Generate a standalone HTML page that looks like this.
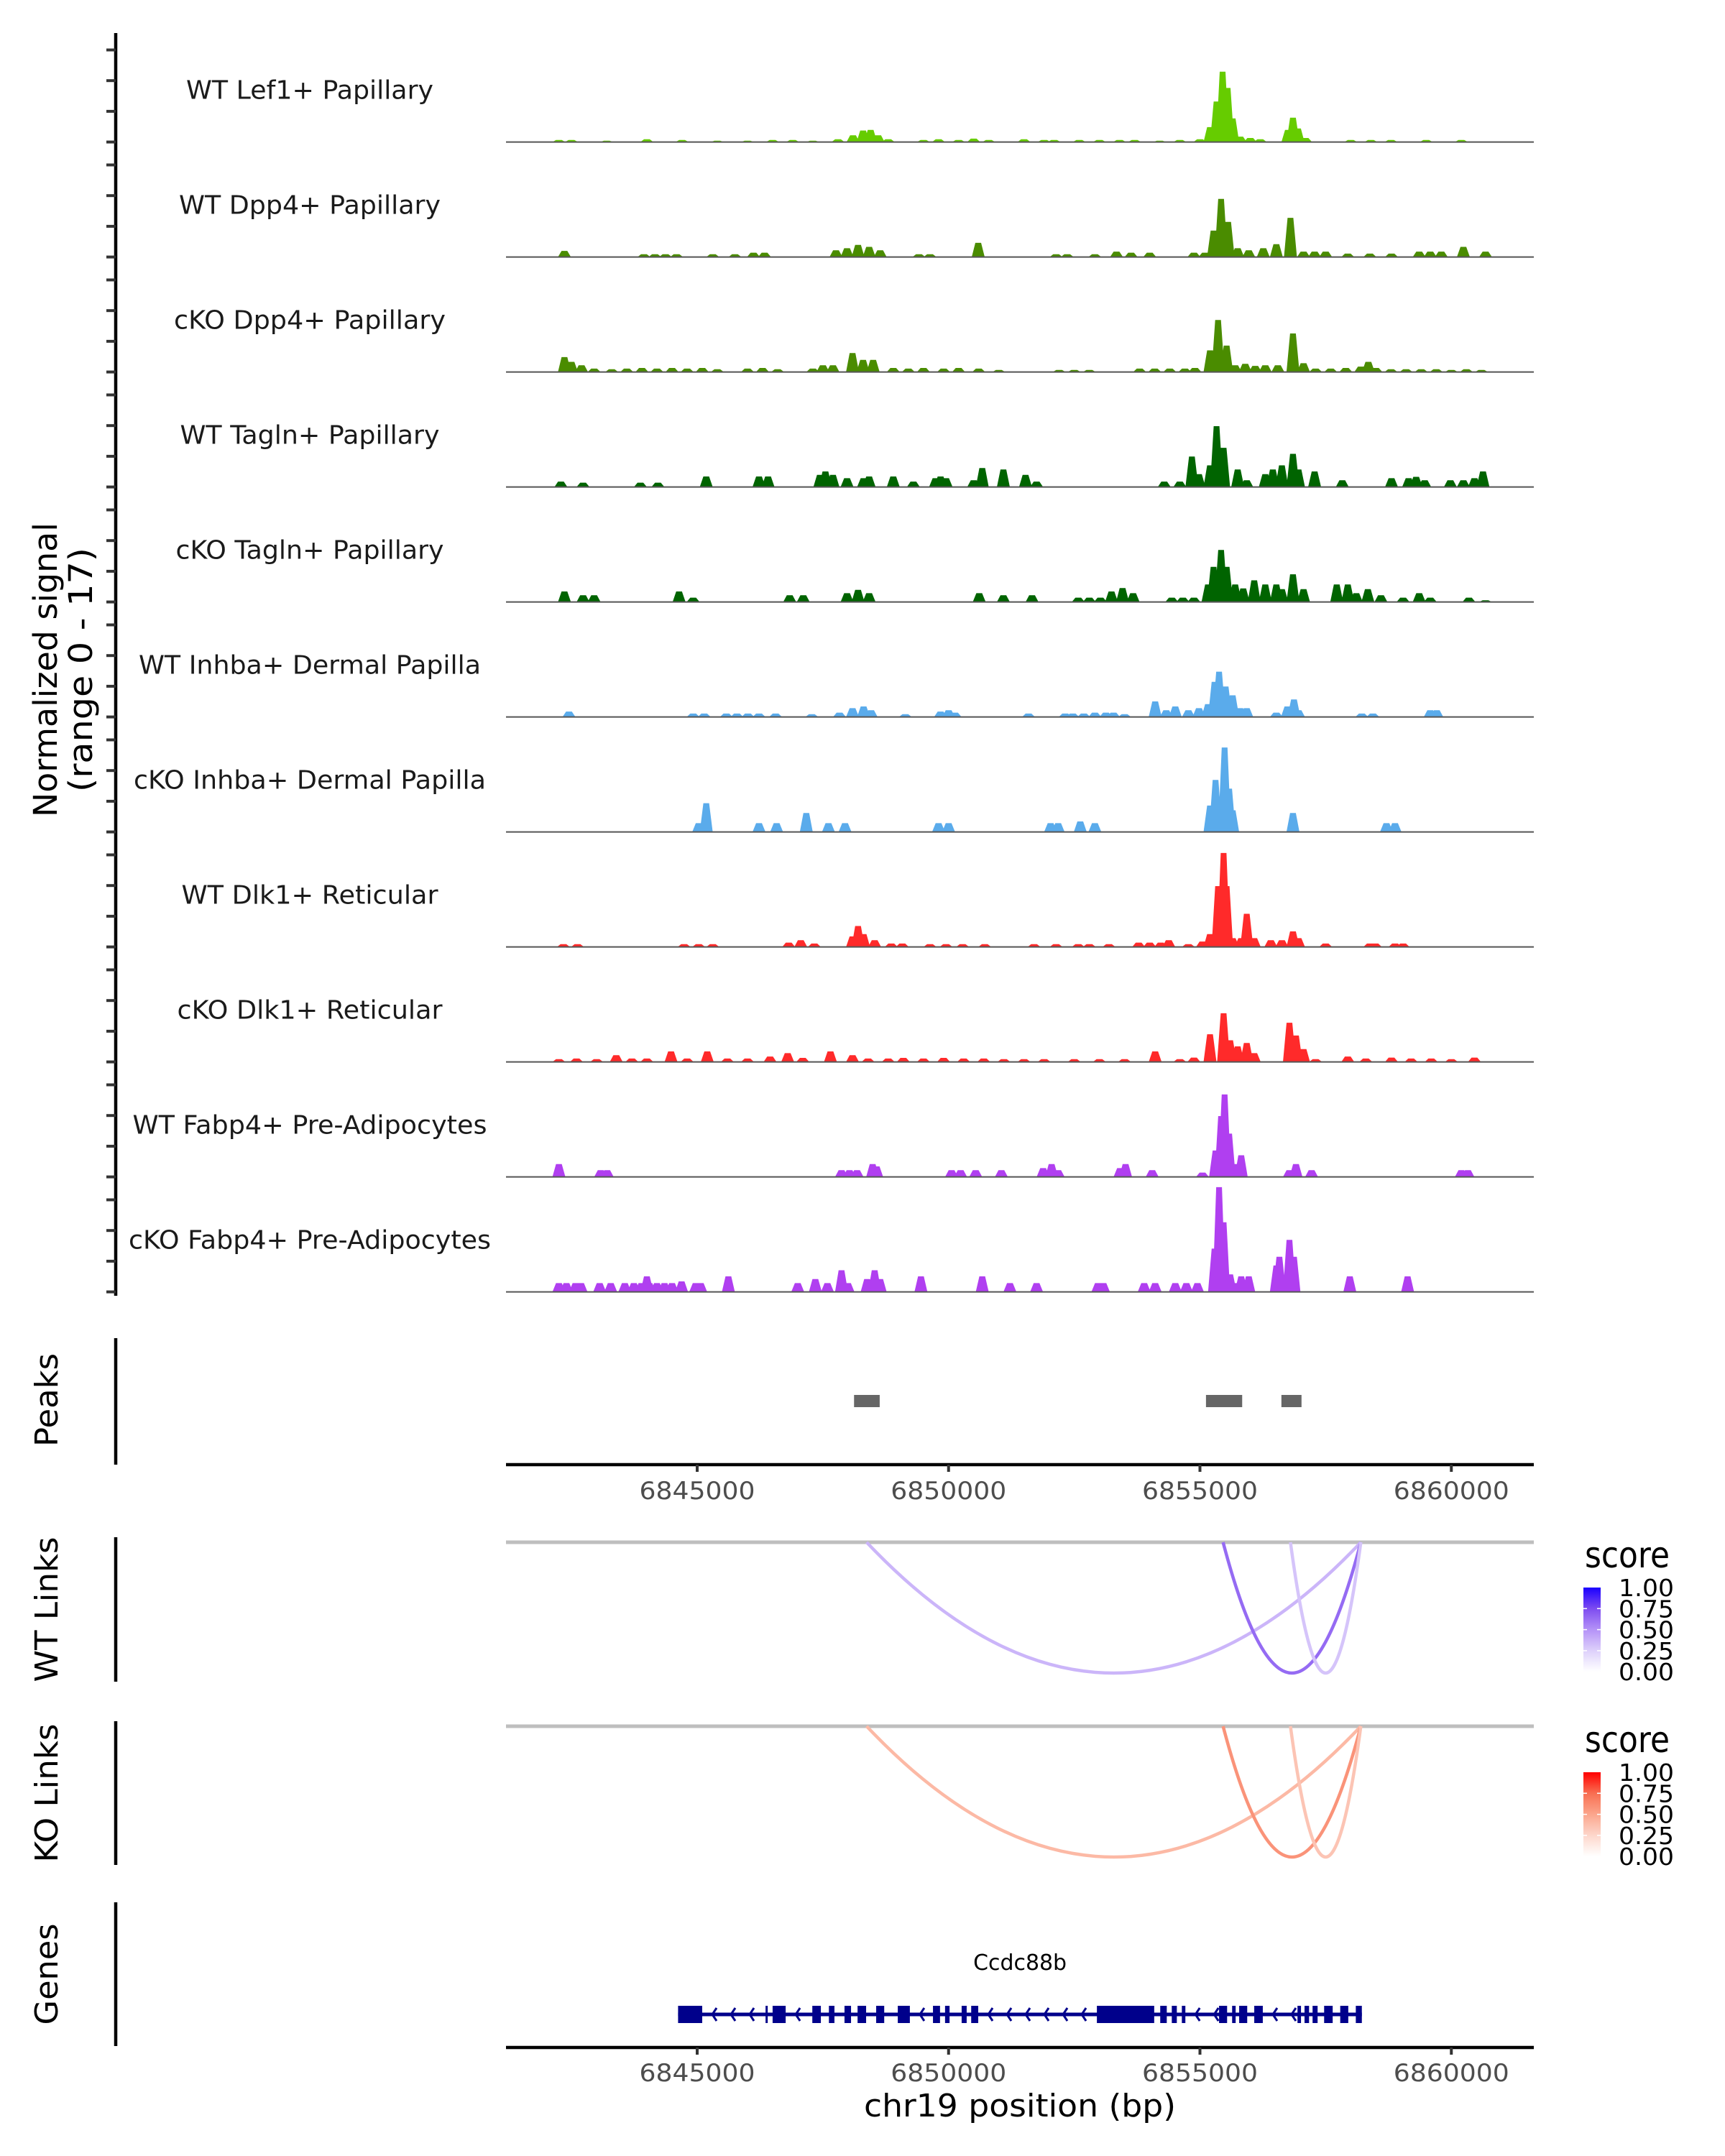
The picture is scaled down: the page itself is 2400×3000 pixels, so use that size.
<!DOCTYPE html>
<html><head><meta charset="utf-8">
<style>
html,body{margin:0;padding:0;background:#fff;}
svg{display:block;}
text{font-family:"DejaVu Sans","Liberation Sans",sans-serif;}
</style></head>
<body>
<svg id="chart" xmlns="http://www.w3.org/2000/svg" width="2400" height="3000" viewBox="0 0 2400 3000">
<rect x="0" y="0" width="2400" height="3000" fill="#fff"/>
<g id="tracks"></g>
<g id="peaks"></g>
<g id="links"></g>
<g id="genes"></g>
</svg>
<script>
// ---- data (positions in kb, signal in normalized units) ----
const xTicks = [6845000, 6850000, 6855000, 6860000];
const trackNames = ["WT Lef1+ Papillary","WT Dpp4+ Papillary","cKO Dpp4+ Papillary","WT Tagln+ Papillary","cKO Tagln+ Papillary","WT Inhba+ Dermal Papilla","cKO Inhba+ Dermal Papilla","WT Dlk1+ Reticular","cKO Dlk1+ Reticular","WT Fabp4+ Pre-Adipocytes","cKO Fabp4+ Pre-Adipocytes"];
const trackColors = ["#66cc00","#4a8c00","#4a8c00","#006400","#006400","#5aabeb","#5aabeb","#ff2a2a","#ff2a2a","#b03ff0","#b03ff0"];
const trackLabelLen = [344,364,378,361,373,476,490,357,369,493,504];
const sigLef1 = [[6842.25,.3],[6842.5,.3],[6843.2,.2],[6844.0,.4],[6844.7,.3],[6845.4,.2],[6846.0,.2],[6846.5,.3],[6846.9,.3],[6847.3,.2],[6847.8,.4],[6848.1,1.0],[6848.3,1.7],[6848.45,1.8],[6848.6,1.0],[6848.8,.4],[6849.5,.3],[6849.8,.4],[6850.2,.3],[6850.5,.5],[6850.8,.3],[6851.5,.4],[6851.9,.3],[6852.1,.3],[6852.6,.3],[6853.0,.3],[6853.4,.3],[6853.7,.3],[6854.2,.2],[6854.6,.3],[6855.0,.4],[6855.2,2.2],[6855.33,6.0],[6855.45,10.4],[6855.55,8],[6855.65,3.5],[6855.8,.8],[6856.0,.6],[6856.2,.4],[6856.75,1.8],[6856.85,3.6],[6856.95,2.0],[6857.1,.6],[6858.0,.3],[6858.4,.3],[6858.8,.3],[6859.5,.3],[6860.2,.3]];
const sigWtDpp4 = [[6842.36,.9],[6843.94,.4],[6844.16,.4],[6844.37,.4],[6844.59,.4],[6845.31,.4],[6845.75,.4],[6846.12,.64],[6846.34,.64],[6847.76,1],[6847.98,1.3],[6848.2,1.8],[6848.42,1.5],[6848.64,1],[6849.41,.4],[6849.63,.4],[6850.59,2.1],[6852.14,.4],[6852.36,.4],[6852.91,.4],[6853.34,.8],[6853.63,.64],[6854.0,.64],[6854.88,.64],[6855.1,.64],[6855.27,3.9],[6855.42,8.6],[6855.56,5.2],[6855.75,1.3],[6855.97,1.0],[6856.26,1.3],[6856.52,1.9],[6856.8,5.8],[6857.06,.8],[6857.28,.8],[6857.5,.8],[6857.94,.5],[6858.38,.5],[6858.81,.5],[6859.36,.8],[6859.58,.8],[6859.8,.8],[6860.24,1.5],[6860.68,.8]];
const sigKoDpp4 = [[6842.36,2.2],[6842.5,1.5],[6842.7,1],[6842.95,.5],[6843.3,.4],[6843.6,.5],[6843.9,.6],[6844.2,.5],[6844.5,.6],[6844.8,.5],[6845.1,.6],[6845.4,.4],[6846.0,.5],[6846.3,.6],[6846.6,.4],[6847.3,.5],[6847.5,1],[6847.7,1],[6848.09,2.8],[6848.3,1.8],[6848.5,1.8],[6848.9,.6],[6849.2,.5],[6849.5,.6],[6849.9,.5],[6850.2,.6],[6850.6,.5],[6851.0,.3],[6852.2,.3],[6852.5,.3],[6852.8,.3],[6853.8,.5],[6854.1,.5],[6854.4,.5],[6854.7,.5],[6854.9,.6],[6855.2,3.2],[6855.36,7.7],[6855.53,3.9],[6855.7,1],[6855.9,1.2],[6856.1,.9],[6856.3,1],[6856.55,1],[6856.85,5.7],[6857.06,1.3],[6857.3,.5],[6857.6,.5],[6857.9,.6],[6858.2,.8],[6858.35,1.5],[6858.5,.6],[6858.8,.4],[6859.1,.4],[6859.4,.4],[6859.7,.4],[6860.0,.3],[6860.3,.4],[6860.6,.3]];
const sigWtTagln = [[6842.29,.8],[6842.73,.64],[6843.87,.64],[6844.22,.64],[6845.18,1.55],[6846.23,1.55],[6846.41,1.55],[6847.44,1.8],[6847.55,2.3],[6847.7,1.8],[6847.98,1.3],[6848.31,1.3],[6848.42,1.55],[6848.9,1.55],[6849.3,.8],[6849.74,1.3],[6849.84,1.55],[6849.95,1.3],[6850.5,1.0],[6850.67,2.8],[6851.09,2.6],[6851.53,1.8],[6851.75,.8],[6854.29,.8],[6854.6,.8],[6854.84,4.5],[6854.98,1.9],[6855.2,3.2],[6855.33,9.0],[6855.47,5.8],[6855.75,2.6],[6855.93,1.0],[6856.3,1.9],[6856.45,2.6],[6856.63,3.2],[6856.85,4.9],[6856.96,2.6],[6857.28,2.3],[6857.83,1.0],[6858.81,1.3],[6859.15,1.3],[6859.3,1.5],[6859.47,1.0],[6859.98,1.0],[6860.24,1.0],[6860.46,1.3],[6860.63,2.3]];
const sigKoTagln = [[6842.36,1.55],[6842.73,1.0],[6842.95,1.0],[6844.64,1.55],[6844.92,.64],[6846.84,1.0],[6847.11,1.0],[6847.98,1.3],[6848.2,1.8],[6848.42,1.3],[6850.61,1.3],[6851.09,1.0],[6851.66,1.0],[6852.58,.64],[6852.8,.64],[6853.02,.64],[6853.24,1.55],[6853.46,2.06],[6853.67,1.3],[6854.44,.64],[6854.66,.64],[6854.88,.64],[6855.16,2.6],[6855.27,5.2],[6855.42,7.7],[6855.53,5.2],[6855.7,2.6],[6855.86,2.0],[6856.08,3.2],[6856.3,2.6],[6856.52,2.6],[6856.63,1.9],[6856.85,4.1],[6857.06,1.9],[6857.72,2.6],[6857.94,2.6],[6858.11,1.3],[6858.34,1.9],[6858.6,1.0],[6859.04,.64],[6859.36,1.3],[6859.58,.64],[6860.35,.64],[6860.68,.26]];
const sigWtInhba = [[6842.45,.8],[6844.92,.5],[6845.14,.5],[6845.58,.5],[6845.79,.5],[6846.01,.5],[6846.23,.5],[6846.56,.5],[6847.28,.4],[6847.83,.64],[6848.09,1.3],[6848.31,1.55],[6848.46,1.0],[6849.14,.4],[6849.84,.8],[6850.0,1.0],[6850.13,.64],[6851.59,.5],[6852.32,.5],[6852.47,.5],[6852.69,.5],[6852.91,.64],[6853.13,.64],[6853.28,.64],[6853.5,.4],[6854.11,2.3],[6854.33,1.0],[6854.51,1.55],[6854.77,1.0],[6854.98,1.3],[6855.16,1.9],[6855.29,5.2],[6855.38,6.7],[6855.51,4.5],[6855.65,3.2],[6855.8,1.3],[6855.93,1.3],[6856.52,.64],[6856.74,1.55],[6856.87,2.6],[6856.96,1.0],[6858.22,.5],[6858.44,.5],[6859.58,1.0],[6859.71,1.0]];
const sigKoInhba = [[6845.03,1.3],[6845.18,4.25],[6846.23,1.3],[6846.58,1.3],[6847.17,2.8],[6847.61,1.3],[6847.94,1.3],[6849.8,1.3],[6850.0,1.3],[6852.03,1.3],[6852.18,1.3],[6852.62,1.55],[6852.91,1.3],[6855.2,3.9],[6855.31,7.7],[6855.38,5.2],[6855.49,12.5],[6855.58,6.4],[6855.65,3.2],[6856.85,2.8],[6858.71,1.3],[6858.88,1.3]];
const sigWtDlk1 = [[6842.34,.4],[6842.62,.4],[6844.74,.4],[6845.03,.4],[6845.31,.4],[6846.82,.64],[6847.06,1.0],[6847.33,.5],[6848.09,1.55],[6848.2,3.1],[6848.31,1.9],[6848.53,1.0],[6848.86,.5],[6849.08,.5],[6849.63,.4],[6849.95,.4],[6850.28,.4],[6850.72,.4],[6851.7,.4],[6852.14,.4],[6852.58,.4],[6852.8,.4],[6853.19,.4],[6853.78,.64],[6854.0,.64],[6854.22,.64],[6854.38,1.0],[6854.77,.4],[6855.05,.8],[6855.2,1.9],[6855.36,9.0],[6855.47,13.9],[6855.53,9.0],[6855.65,1.3],[6855.82,1.3],[6855.93,4.9],[6856.08,1.3],[6856.41,1.0],[6856.63,1.0],[6856.85,2.3],[6856.96,1.3],[6857.5,.5],[6858.38,.5],[6858.49,.5],[6858.88,.5],[6859.04,.5]];
const sigKoDlk1 = [[6842.25,.4],[6842.6,.5],[6843.0,.4],[6843.39,1.0],[6843.7,.5],[6844.0,.5],[6844.48,1.55],[6844.8,.5],[6845.2,1.55],[6845.6,.5],[6846.0,.5],[6846.45,.8],[6846.8,1.3],[6847.1,.6],[6847.65,1.55],[6848.09,1.0],[6848.4,.5],[6848.8,.5],[6849.1,.6],[6849.5,.5],[6849.9,.6],[6850.3,.5],[6850.7,.5],[6851.1,.4],[6851.5,.4],[6851.9,.4],[6852.5,.4],[6853.0,.4],[6853.5,.4],[6854.11,1.55],[6854.6,.4],[6854.88,.64],[6855.2,4.1],[6855.47,7.2],[6855.6,3.2],[6855.75,2.3],[6855.93,2.8],[6856.08,1.3],[6856.78,5.8],[6856.91,3.9],[6857.06,1.9],[6857.3,.4],[6857.94,.8],[6858.3,.5],[6858.81,.64],[6859.2,.5],[6859.6,.5],[6860.0,.4],[6860.46,.64]];
const sigWtFabp4 = [[6842.25,1.9],[6843.08,1.0],[6843.21,1.0],[6847.87,1.0],[6848.03,1.0],[6848.18,1.0],[6848.49,1.9],[6848.57,1.55],[6850.06,1.0],[6850.24,1.0],[6850.54,1.0],[6851.05,1.0],[6851.88,1.3],[6852.05,1.9],[6852.18,1.0],[6853.41,1.3],[6853.52,1.9],[6854.05,1.0],[6855.05,.64],[6855.31,3.9],[6855.42,9.0],[6855.49,12.2],[6855.58,6.4],[6855.69,1.9],[6855.82,3.2],[6856.78,1.0],[6856.91,1.9],[6857.22,1.0],[6860.2,1.0],[6860.33,1.0]];
const sigKoFabp4 = [[6842.25,1.3],[6842.4,1.3],[6842.58,1.3],[6842.69,1.3],[6843.06,1.3],[6843.28,1.3],[6843.56,1.3],[6843.74,1.3],[6843.89,1.3],[6844.0,2.3],[6844.05,1.3],[6844.2,1.3],[6844.35,1.3],[6844.5,1.3],[6844.69,1.55],[6844.97,1.3],[6845.07,1.3],[6845.62,2.3],[6847.0,1.3],[6847.35,1.9],[6847.59,1.3],[6847.87,3.2],[6848.0,1.3],[6848.38,1.9],[6848.53,3.2],[6848.64,1.9],[6849.45,2.3],[6850.67,2.3],[6851.22,1.3],[6851.75,1.3],[6852.97,1.3],[6853.08,1.3],[6853.89,1.3],[6854.11,1.3],[6854.51,1.3],[6854.73,1.3],[6854.95,1.3],[6855.29,6.4],[6855.38,15.5],[6855.47,10.3],[6855.6,2.6],[6855.69,1.3],[6855.82,2.3],[6855.97,2.3],[6856.52,3.9],[6856.58,5.2],[6856.78,7.7],[6856.87,5.2],[6857.98,2.3],[6859.13,2.3]];
const trackSignals = [sigLef1,sigWtDpp4,sigKoDpp4,sigWtTagln,sigKoTagln,sigWtInhba,sigKoInhba,sigWtDlk1,sigKoDlk1,sigWtFabp4,sigKoFabp4];
const peakStarts = [6848.12, 6855.12, 6856.62];
const peakEnds = [6848.63, 6855.84, 6857.02];
const linkStarts = [6848.37, 6855.46, 6856.80];
const linkEnds = [6858.20, 6858.20, 6858.20];
const wtScores = [0.36, 0.64, 0.30];
const koScores = [0.40, 0.58, 0.34];
const legendTicks = ["1.00","0.75","0.50","0.25","0.00"];
const exonStarts = [6844.62,6846.36,6846.50,6847.29,6847.62,6847.93,6848.19,6848.56,6848.99,6849.69,6849.93,6850.26,6850.45,6852.95,6854.21,6854.44,6854.64,6855.38,6855.64,6855.78,6856.08,6856.94,6857.08,6857.24,6857.47,6857.79,6858.10];
const exonEnds   = [6845.10,6846.40,6846.76,6847.46,6847.73,6848.06,6848.36,6848.72,6849.23,6849.83,6850.02,6850.36,6850.59,6854.09,6854.34,6854.54,6854.71,6855.54,6855.71,6855.94,6856.25,6857.01,6857.17,6857.34,6857.64,6857.95,6858.22];

// ---- scales ----
const NS = "http://www.w3.org/2000/svg";
const X0 = 704, X1 = 2134;
function xs(kb){ return 970 + (kb - 6845) * 69.95; }
const PX_PER_UNIT = 9.4;
function baseY(i){ return 197.6 + 160 * i; }
function el(tag, attrs, parent, txt){
  const e = document.createElementNS(NS, tag);
  for (const k in attrs) e.setAttribute(k, attrs[k]);
  if (txt !== undefined) e.textContent = txt;
  parent.appendChild(e);
  return e;
}
const tracksG = document.getElementById('tracks');

// left signal axis
let ax = el('line',{x1:161,y1:46,x2:161,y2:1803,stroke:'#000','stroke-width':4.5},tracksG);


for (let i=0;i<11;i++){
  for (let k=0;k<4;k++){
    const y = baseY(i) - k*42.7;
    const t = el('line',{x1:148,y1:y,x2:161,y2:y,stroke:'#333','stroke-width':4},tracksG);
    
    
  }
}
let yt1 = el('text',{x:0,y:0,transform:'translate(79,932) rotate(-90)','text-anchor':'middle','font-size':45,fill:'#000',textLength:410,lengthAdjust:'spacingAndGlyphs'},tracksG,'Normalized signal');


let yt2 = el('text',{x:0,y:0,transform:'translate(128,932) rotate(-90)','text-anchor':'middle','font-size':45,fill:'#000',textLength:340,lengthAdjust:'spacingAndGlyphs'},tracksG,'(range 0 - 17)');



// tracks
trackNames.forEach((name,i)=>{
  const g = el('g',{},tracksG);
  
  
  const by = baseY(i);
  const lab = el('text',{x:431,y:by-60,'text-anchor':'middle','font-size':36,fill:'#1a1a1a',textLength:trackLabelLen[i],lengthAdjust:'spacingAndGlyphs'},g,name);
  
  
  let d = '';
  trackSignals[i].forEach(p=>{
    const cx = xs(p[0]), h = p[1]*PX_PER_UNIT;
    d += `M${(cx-9).toFixed(1)},${by} L${(cx-4).toFixed(1)},${(by-h).toFixed(1)} L${(cx+4).toFixed(1)},${(by-h).toFixed(1)} L${(cx+9).toFixed(1)},${by} Z `;
  });
  const path = el('path',{d:d,fill:trackColors[i]},g);
  
  
  const bl = el('line',{x1:X0,y1:by,x2:X1,y2:by,stroke:'#555','stroke-width':2},g);
  
  
});

// peaks panel
const peaksG = document.getElementById('peaks');
let pa = el('line',{x1:161,y1:1862,x2:161,y2:2038,stroke:'#000','stroke-width':4.5},peaksG);


let pl = el('text',{transform:'translate(80,1948) rotate(-90)','text-anchor':'middle','font-size':44,fill:'#000',textLength:130,lengthAdjust:'spacingAndGlyphs'},peaksG,'Peaks');


peakStarts.forEach((s,i)=>{
  const r = el('rect',{x:xs(s),y:1941,width:xs(peakEnds[i])-xs(s),height:17,fill:'#666'},peaksG);
  
  
});
function xAxis(parent, y, labY){
  const l = el('line',{x1:X0,y1:y,x2:X1,y2:y,stroke:'#000','stroke-width':4.5},parent);
  
  
  xTicks.forEach(t=>{
    const x = xs(t/1000);
    const tk = el('line',{x1:x,y1:y,x2:x,y2:y+10,stroke:'#333','stroke-width':4},parent);
    
    
    const tl = el('text',{x:x,y:labY,'text-anchor':'middle','font-size':34,fill:'#4d4d4d',textLength:161,lengthAdjust:'spacingAndGlyphs'},parent,String(t));
    
    
  });
}
xAxis(peaksG, 2038, 2086);

// links panels
const linksG = document.getElementById('links');
function lerp(a,b,t){return Math.round(a+(b-a)*t);}
const wtStops = [[255,255,255],[221,208,251],[180,146,247],[125,76,240],[26,0,255]];
const koStops = [[255,255,255],[253,214,203],[251,165,140],[248,110,82],[255,0,0]];
function colorFor(stops,s){
  const f = Math.max(0,Math.min(1,s))*4, k = Math.min(3,Math.floor(f)), t = f-k;
  const a = stops[k], b = stops[k+1];
  return `rgb(${lerp(a[0],b[0],t)},${lerp(a[1],b[1],t)},${lerp(a[2],b[2],t)})`;
}
function linksPanel(name, title, titleLen, top, axTop, axBot, scores, stops, legY, gradId){
  const g = el('g',{},linksG);
  
  
  const a = el('line',{x1:161,y1:axTop,x2:161,y2:axBot,stroke:'#000','stroke-width':4.5},g);
  
  
  const t = el('text',{transform:`translate(80,${(axTop+axBot)/2}) rotate(-90)`,'text-anchor':'middle','font-size':44,fill:'#000',textLength:titleLen,lengthAdjust:'spacingAndGlyphs'},g,title);
  
  
  const gl = el('line',{x1:X0,y1:top,x2:X1,y2:top,stroke:'#bebebe','stroke-width':5},g);
  
  
  const depth = 182;
  linkStarts.forEach((s,i)=>{
    const xa = xs(s), xb = xs(linkEnds[i]);
    const p = el('path',{d:`M${xa},${top} Q${(xa+xb)/2},${top+2*depth} ${xb},${top}`,fill:'none',stroke:colorFor(stops,scores[i]),'stroke-width':4.5},g);
    
    
  });
  // legend
  const lg = el('g',{},g);
  
  
  const lt = el('text',{x:2205,y:legY,'font-size':50,fill:'#000',textLength:118,lengthAdjust:'spacingAndGlyphs'},lg,'score');
  
  
  const defs = el('defs',{},lg);
  const grad = el('linearGradient',{id:gradId,x1:0,y1:1,x2:0,y2:0},defs);
  for (let k=0;k<=8;k++) el('stop',{offset:k/8,'stop-color':colorFor(stops,k/8)},grad);
  const bt = legY+28;
  const bar = el('rect',{x:2203,y:bt,width:24,height:117,fill:`url(#${gradId})`},lg);
  
  
  legendTicks.forEach((lab,k)=>{
    const y = bt + k*29.3;
    if (k>0 && k<4){
      el('line',{x1:2203,y1:y,x2:2208,y2:y,stroke:'#fff','stroke-width':1.5},lg);
      el('line',{x1:2222,y1:y,x2:2227,y2:y,stroke:'#fff','stroke-width':1.5},lg);
    }
    const tx = el('text',{x:2252,y:y+12,'font-size':33,fill:'#000',textLength:77,lengthAdjust:'spacingAndGlyphs'},lg,lab);
    
    
  });
}
linksPanel('wt-links-panel','WT Links',202,2146,2139,2340,wtScores,wtStops,2181,'gw');
linksPanel('ko-links-panel','KO Links',193,2402,2395,2595,koScores,koStops,2438,'gk');

// genes panel
const genesG = document.getElementById('genes');
let ga = el('line',{x1:161,y1:2647,x2:161,y2:2847,stroke:'#000','stroke-width':4.5},genesG);


let gt = el('text',{transform:'translate(80,2747) rotate(-90)','text-anchor':'middle','font-size':44,fill:'#000',textLength:141,lengthAdjust:'spacingAndGlyphs'},genesG,'Genes');


const gxa = xs(exonStarts[0]), gxb = xs(exonEnds[exonEnds.length-1]);
let gn = el('text',{x:(gxa+gxb)/2,y:2741,'text-anchor':'middle','font-size':30,fill:'#000',textLength:130,lengthAdjust:'spacingAndGlyphs'},genesG,'Ccdc88b');


const gy = 2803;
let gline = el('line',{x1:gxa,y1:gy,x2:gxb,y2:gy,stroke:'#00008b','stroke-width':5},genesG);


// strand arrows in introns
for (let i=0;i<exonStarts.length-1;i++){
  const a = xs(exonEnds[i]), b = xs(exonStarts[i+1]);
  for (let x=a+14; x<b-6; x+=26){
    const ar = el('polyline',{points:`${x+6},${gy-9} ${x},${gy} ${x+6},${gy+9}`,fill:'none',stroke:'#00008b','stroke-width':3},genesG);
    
    
  }
}
exonStarts.forEach((s,i)=>{
  const r = el('rect',{x:xs(s),y:gy-12,width:Math.max(3,xs(exonEnds[i])-xs(s)),height:24,fill:'#00008b'},genesG);
  
  
});
xAxis(genesG, 2849, 2896);
let xt = el('text',{x:1419,y:2945,'text-anchor':'middle','font-size':44,fill:'#000',textLength:434,lengthAdjust:'spacingAndGlyphs'},genesG,'chr19 position (bp)');


</script>
</body></html>
